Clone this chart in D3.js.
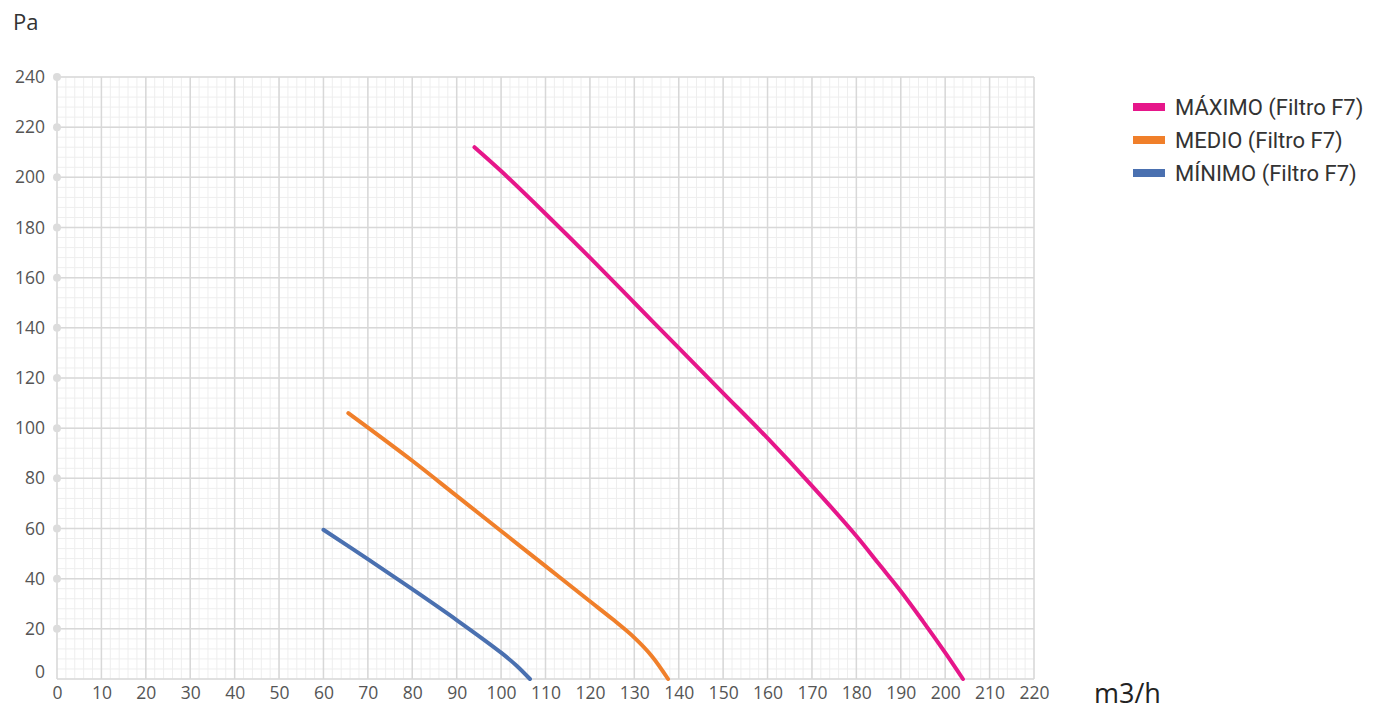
<!DOCTYPE html>
<html>
<head>
<meta charset="utf-8">
<script src="https://cdnjs.cloudflare.com/ajax/libs/d3/7.8.5/d3.min.js"></script>
<style>
  body { margin: 0; background: #fff; }
  svg { display: block; }
</style>
</head>
<body>
<script>
  // Data (m3/h, Pa)
  var seriesNames = ["MÁXIMO (Filtro F7)", "MEDIO (Filtro F7)", "MÍNIMO (Filtro F7)"];
  var seriesColors = ["#e6168a", "#f07f2a", "#4a70b0"];
  var maxFlow = [94, 100, 110, 120, 130, 140, 150, 160, 170, 180, 185, 190, 195, 200, 204];
  var maxPa = [212, 202.5, 185.5, 168, 150, 132, 114, 96, 77, 57, 46, 35, 23, 10.5, 0];
  var medFlow = [65.6, 80, 90, 100, 110, 120, 125, 130, 134, 137.6];
  var medPa = [106, 87, 73, 59, 45, 31, 24, 16.5, 9, 0];
  var minFlow = [60, 70, 80, 90, 100, 103.5, 106.5];
  var minPa = [59.5, 47.8, 35.8, 23.5, 10.5, 5.3, 0];
  var xTicks = d3.range(0, 221, 10);
  var yTicks = d3.range(0, 241, 20);

  var W = 1385, H = 711;
  var margin = { top: 77, left: 57 },
    width = 1034 - margin.left,
    height = 679 - margin.top;

  var x = d3.scaleLinear().domain([0, 220]).range([0, width]);
  var y = d3.scaleLinear().domain([0, 240]).range([height, 0]);

  var svg = d3.select("body").append("svg")
    .attr("width", W)
    .attr("height", H);
  var g = svg.append("g")
    .attr("transform", "translate(" + margin.left + "," + margin.top + ")");

  // minor grid
  g.append("g").selectAll("line.mx")
    .data(d3.range(0, 221, 2)).enter().append("line")
    .attr("x1", function (d) { return x(d); }).attr("x2", function (d) { return x(d); })
    .attr("y1", 0).attr("y2", height)
    .attr("stroke", "#eeeeee").attr("stroke-width", 1);
  g.append("g").selectAll("line.my")
    .data(d3.range(0, 241, 4)).enter().append("line")
    .attr("y1", function (d) { return y(d); }).attr("y2", function (d) { return y(d); })
    .attr("x1", 0).attr("x2", width)
    .attr("stroke", "#eeeeee").attr("stroke-width", 1);

  // major grid
  g.append("g").selectAll("line")
    .data(xTicks).enter().append("line")
    .attr("x1", function (d) { return x(d); }).attr("x2", function (d) { return x(d); })
    .attr("y1", 0).attr("y2", height)
    .attr("stroke", "#d8d8d8").attr("stroke-width", 1.5);
  g.append("g").selectAll("line")
    .data(yTicks).enter().append("line")
    .attr("y1", function (d) { return y(d); }).attr("y2", function (d) { return y(d); })
    .attr("x1", 0).attr("x2", width)
    .attr("stroke", "#d8d8d8").attr("stroke-width", 1.5);

  // tick dots on the y axis
  g.append("g").selectAll("circle")
    .data(yTicks.filter(function (d) { return d > 0; })).enter().append("circle")
    .attr("cx", 0).attr("cy", function (d) { return y(d); })
    .attr("r", 4).attr("fill", "#dcdcdc");

  // axes (labels only)
  var xAxis = d3.axisBottom(x).tickValues(xTicks).tickSize(0).tickPadding(8);
  var yAxis = d3.axisLeft(y).tickValues(yTicks).tickSize(0).tickPadding(12);

  var gx = g.append("g").attr("transform", "translate(0," + height + ")").call(xAxis);
  var gy = g.append("g").call(yAxis);
  [gx, gy].forEach(function (a) {
    a.select(".domain").remove();
    a.selectAll("text")
      .attr("fill", "#555")
      .style("font-family", "'Open Sans', sans-serif")
      .style("font-size", "17.5px");
  });
  gy.selectAll(".tick").filter(function (d) { return d === 0; })
    .select("text").attr("dy", "-0.1em");

  // curves
  var line = d3.line()
    .x(function (d) { return x(d[0]); })
    .y(function (d) { return y(d[1]); })
    .curve(d3.curveCatmullRom.alpha(0.5));

  var series = [
    d3.zip(maxFlow, maxPa),
    d3.zip(medFlow, medPa),
    d3.zip(minFlow, minPa)
  ];
  g.selectAll("path.curve")
    .data(series).enter().append("path")
    .attr("class", "curve")
    .attr("d", line)
    .attr("fill", "none")
    .attr("stroke", function (d, i) { return seriesColors[i]; })
    .attr("stroke-width", 4)
    .attr("stroke-linecap", "round");

  // axis titles
  svg.append("text")
    .attr("x", 13).attr("y", 30)
    .attr("fill", "#333")
    .style("font-family", "'Open Sans', sans-serif")
    .style("font-size", "22px")
    .text("Pa");
  svg.append("text")
    .attr("x", 1094).attr("y", 703)
    .attr("fill", "#222")
    .style("font-family", "'Open Sans', sans-serif")
    .style("font-size", "27px")
    .text("m3/h");

  // legend
  var legend = svg.append("g").attr("transform", "translate(1133,107)");
  var items = legend.selectAll("g")
    .data(seriesNames).enter().append("g")
    .attr("transform", function (d, i) { return "translate(0," + i * 33 + ")"; });
  items.append("rect")
    .attr("x", 0).attr("y", -4).attr("width", 32).attr("height", 8)
    .attr("fill", function (d, i) { return seriesColors[i]; });
  items.append("text")
    .attr("x", 42).attr("y", 0).attr("dy", "0.35em")
    .attr("fill", "#333")
    .style("font-family", "Roboto, sans-serif")
    .style("font-size", "22px")
    .text(function (d) { return d; });
</script>
</body>
</html>
